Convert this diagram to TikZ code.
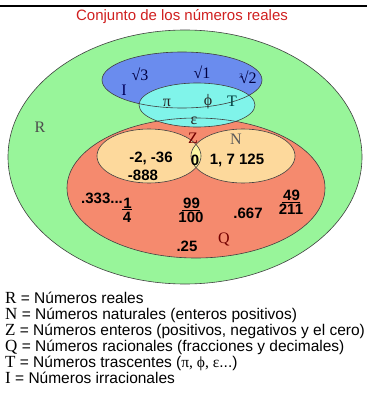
\documentclass[tikz,border=0pt]{standalone}
\usepackage{fontspec}
\setmainfont{Liberation Sans}
\newfontfamily\serifsym{Liberation Serif}
\definecolor{realgreen}{HTML}{98F59A}
\definecolor{irrblue}{HTML}{6A8CEE}
\definecolor{transcyan}{HTML}{80F4EA}
\definecolor{ratsalmon}{HTML}{F58A6E}
\definecolor{intsand}{HTML}{FDD99C}
\definecolor{zerolens}{HTML}{FCF8A2}
\definecolor{titlered}{HTML}{D02020}
\newcommand{\frc}[2]{\begin{tabular}{@{}c@{}}\underline{\kern1pt#1}\\[-2pt]#2\end{tabular}}
\newcommand{\legsym}[1]{{\serifsym\fontsize{17}{16}\selectfont #1}}

\begin{document}
\begin{tikzpicture}[
  x=1pt, y=-1pt,
  setline/.style={draw=black!75, line width=0.6pt},
  setlbl/.style={font=\serifsym\fontsize{16}{16}\selectfont, inner sep=0pt},
  numlbl/.style={font=\bfseries\fontsize{15}{16}\selectfont, inner sep=0pt, align=center},
  leglbl/.style={anchor=base west, inner sep=0pt, font=\fontsize{15.5}{16}\selectfont},
]

% ── Canvas and heading ──────────────────────────────────────────────────────
\fill[white] (0,0) rectangle (367,396);
\useasboundingbox (0,0) rectangle (367,396);
\draw[line width=2pt] (0,6) -- (367,6);
\node[titlered, font=\fontsize{15}{15}\selectfont] (title) at (182,17)
  {Conjunto de los números reales};

% ── Parameters (pixels, y downwards) ────────────────────────────────────────
\def\Rx{185}  \def\Ry{157}   % real numbers R
\def\Qx{196}  \def\Qy{188}   % rationals Q
\def\Ix{182}  \def\Iy{80}    % irrationals I
\def\Tx{197}  \def\Ty{105}   % transcendentals T
\def\Zx{149}  \def\Nx{243}  \def\ZNy{156}   % integers Z, naturals N

% ── Fills ───────────────────────────────────────────────────────────────────
\fill[realgreen] (\Rx,\Ry) ellipse [x radius=177, y radius=127];
\fill[ratsalmon] (\Qx,\Qy) ellipse [x radius=129, y radius=70];
\fill[intsand]   (\Zx,\ZNy) ellipse [x radius=52, y radius=27];
\fill[intsand]   (\Nx,\ZNy) ellipse [x radius=52, y radius=27];
\begin{scope}
  \clip (\Zx,\ZNy) ellipse [x radius=52, y radius=27];
  \fill[zerolens] (\Nx,\ZNy) ellipse [x radius=52, y radius=27];
\end{scope}
\fill[irrblue]   (\Ix,\Iy) ellipse [x radius=80, y radius=28];
\fill[transcyan] (\Tx,\Ty) ellipse [x radius=58, y radius=22];

% ── Outlines (drawn last so they cross each other) ──────────────────────────
\draw[setline] (\Rx,\Ry) ellipse [x radius=177, y radius=127];
\draw[setline] (\Qx,\Qy) ellipse [x radius=129, y radius=70];
\draw[setline] (\Zx,\ZNy) ellipse [x radius=52, y radius=27];
\draw[setline] (\Nx,\ZNy) ellipse [x radius=52, y radius=27];
\draw[setline] (\Ix,\Iy) ellipse [x radius=80, y radius=28];
\draw[setline] (\Tx,\Ty) ellipse [x radius=58, y radius=22];

% ── Set names ───────────────────────────────────────────────────────────────
\node[setlbl, black!70] (lblR) at (40,127) {R};
\node[setlbl, blue!35!black] (lblI) at (124,90) {I};
\node[setlbl, teal!50!black] (lblT) at (232,101) {T};
\node[setlbl, red!45!black] (lblZ) at (193,138) {Z};
\node[setlbl, black!65] (lblN) at (236,139) {N};
\node[setlbl, red!45!black] (lblQ) at (224,239) {Q};

% ── Irrational and transcendental members ───────────────────────────────────
\node[setlbl, blue!25!black] (root3) at (140,74) {√3};
\node[setlbl, blue!25!black] (root1) at (202,72) {√1};
\node[setlbl, blue!25!black] (cbrt2) at (248,77)
  {\raisebox{5pt}{\fontsize{7}{7}\selectfont 3}\kern-3pt√2};
\node[setlbl, black!85] (pi)  at (167,103) {π};
\node[setlbl, black!85] (phi) at (208,102) {ϕ};
\node[setlbl, black!85] (eps) at (194,121) {ε};

% ── Integers, naturals, rationals ───────────────────────────────────────────
\node[numlbl] (negs)  at (151,158) {-2, -36};
\node[numlbl] (neg8)  at (143,175) {-888};
\node[numlbl] (zero)  at (195,160) {0};
\node[numlbl] (nats)  at (237,160) {1,\ 7\ 125};
\node[numlbl] (rep3)  at (102,198) {.333...};
\node[numlbl] (quart) at (127,212) {\frc{1}{4}};
\node[numlbl] (ninety)at (191,212) {\frc{99}{100}};
\node[numlbl] (dec667)at (248,213) {.667};
\node[numlbl] (fortyn)at (291,204) {\frc{49}{211}};
\node[numlbl] (dec25) at (187,246) {.25};

% ── Legend ──────────────────────────────────────────────────────────────────
\node[leglbl] (legR) at (5,303) {\legsym{R} = Números reales};
\node[leglbl] (legN) at (5,319) {\legsym{N} = Números naturales (enteros positivos)};
\node[leglbl] (legZ) at (5,335) {\legsym{Z} = Números enteros (positivos, negativos y el cero)};
\node[leglbl] (legQ) at (5,351) {\legsym{Q} = Números racionales (fracciones y decimales)};
\node[leglbl] (legT) at (5,367) {\legsym{T} = Números trascentes ({\serifsym π, ϕ, ε}...)};
\node[leglbl] (legI) at (5,383) {\legsym{I} = Números irracionales};

\end{tikzpicture}
\end{document}
